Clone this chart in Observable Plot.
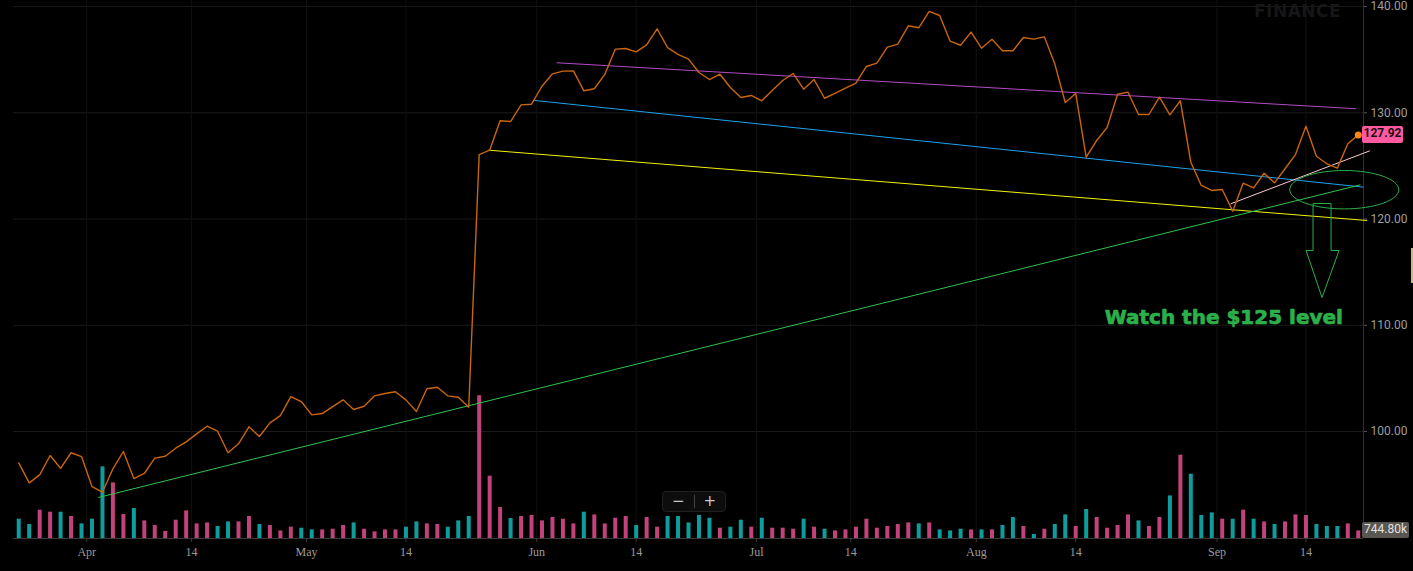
<!DOCTYPE html>
<html>
<head>
<meta charset="utf-8">
<script src="https://cdn.jsdelivr.net/npm/d3@7"></script>
<script src="https://cdn.jsdelivr.net/npm/@observablehq/plot@0.6"></script>
<style>
  html, body { margin: 0; padding: 0; background: #000; }
  #chart { position: relative; width: 1413px; height: 571px; overflow: hidden; background: #000; }
  #chart svg { position: absolute; left: 0; top: 0; }
  .tag { position: absolute; box-sizing: border-box; text-align: center; border-radius: 2px; }
</style>
</head>
<body>
<div id="chart"></div>
<script>
// ---------- data ----------
// daily closing prices, one per trading day (index 0 .. 128)
const price = [
  97.05, 95.17, 95.92, 97.74, 96.54, 98.00, 97.64, 94.82, 94.29, 96.49,
  98.12, 95.57, 96.05, 97.49, 97.67, 98.43, 99.03, 99.78, 100.50, 100.03,
  98.00, 98.84, 100.44, 99.53, 100.82, 101.50, 103.29, 102.82, 101.57, 101.69,
  102.35, 102.98, 102.07, 102.38, 103.36, 103.58, 103.74, 102.98, 101.88, 104.02,
  104.17, 103.36, 103.23, 102.29, 126.07, 126.48, 129.25, 129.18, 130.75, 130.81,
  132.50, 133.67, 133.92, 133.95, 132.07, 132.26, 133.61, 135.99, 136.05, 135.74,
  136.39, 137.91, 136.13, 135.50, 135.05, 133.79, 133.13, 133.63, 132.38, 131.44,
  131.63, 131.13, 132.10, 133.04, 133.70, 132.22, 133.13, 131.37, 131.82, 132.32,
  132.79, 134.36, 134.67, 136.18, 136.46, 138.19, 138.00, 139.54, 139.16, 136.74,
  136.36, 137.59, 136.08, 136.93, 135.84, 135.84, 137.09, 136.93, 137.15, 134.61,
  130.97, 131.82, 125.82, 127.39, 128.62, 131.75, 131.94, 129.84, 129.84, 131.47,
  129.81, 131.13, 125.35, 123.16, 122.69, 122.78, 120.74, 123.37, 122.94, 124.31,
  123.41, 124.73, 126.07, 128.74, 125.91, 125.20, 124.79, 127.08, 127.92
];

// daily volume, thousands of shares
const volume = [
  1891, 1372, 2773, 2577, 2577, 2156, 1431, 1891, 7017, 5449,
  2352, 2940, 1725, 1274, 686, 1793, 2705, 1431, 1529, 1176,
  1627, 1627, 2156, 1372, 1274, 745, 1107, 1009, 843, 843,
  911, 1274, 1529, 911, 647, 843, 843, 1107, 1627, 1431,
  1372, 1107, 1725, 2156, 13975, 6105, 3038, 1960, 2156, 2254,
  1725, 2058, 1891, 1431, 2577, 2313, 1431, 1989, 2156, 1274,
  2058, 1107, 2156, 2156, 1529, 2254, 1989, 1009, 1107, 1793,
  1107, 1989, 1009, 1009, 911, 1891, 1107, 911, 745, 843,
  1107, 1891, 1009, 1176, 1372, 1529, 1431, 1529, 843, 745,
  911, 843, 843, 843, 1274, 2058, 1176, 392, 911, 1372,
  2313, 1176, 2842, 2058, 1009, 1274, 2313, 1725, 1176, 2058,
  4175, 8163, 6301, 2254, 2509, 1891, 1891, 2773, 1891, 1627,
  1372, 1627, 2313, 2254, 1372, 1176, 1176, 1431, 744.8
];

// volume bar tone: t = up day (teal), p = down day (pink)
const barTone = [
  "ttpptptttp", "ptpppppppt", "tpptpppttp", "pptppppttp", "ptttppptpp",
  "pppptppppt", "pptttttptt", "ptppptptpp", "pppppptptt", "tptpttptpt",
  "tptpppptpp", "tptttptptp", "tppptttpp"
].join("").split("");

// x-axis ticks (trading-day index) and their labels
const dateTickAt    = [6.5, 16.5, 27.5, 37, 49.5, 59, 70.5, 79.5, 91.5, 101, 114.5, 123];
const dateTickLabel = ["Apr", "14", "May", "14", "Jun", "14", "Jul", "14", "Aug", "14", "Sep", "14"];

// price axis ticks
const priceTicks = [100, 110, 120, 130, 140];

// hand-drawn trend lines (trading-day index, price)
const trendName = ["channelTop", "channelMid", "channelLow", "support", "shortUp"];
const trendX1 = [51.4, 49.3, 44.9, 7.6, 115.8];
const trendY1 = [134.71, 131.16, 126.48, 93.79, 121.43];
const trendX2 = [127.8, 128.5, 128.85, 128.2, 129.1];
const trendY2 = [130.38, 123.00, 119.86, 123.22, 126.42];

// annotations (trading-day index, price)
const noteText = ["Watch the $125 level"];
const noteX = [115.15];
const noteY = [110.75];
const ringX = [126.66];
const ringY = [122.76];
const arrowX = [124.54];
const arrowY = [117.04];

// ---------- layout & style ----------
const W = 1413, H = 571;
const frame = {
  width: W, height: H,
  marginLeft: 13, marginRight: 50, marginTop: 0, marginBottom: 33,
  style: { background: "transparent", overflow: "visible" }
};
const xDomain = [-0.5, 128.5];
const yDomain = [89.93, 140.57];
const volumeDomain = [0, 52700];

const C = {
  grid: "#1a1a1a", vgrid: "#101010", axis: "#3a3a3a", text: "#9d9d9d",
  price: "#c9650d", teal: "#0e9d9d", pink: "#c2437b",
  channelTop: "#b24cc4", channelMid: "#1ea2ee", channelLow: "#f2f200",
  support: "#2ec24e", shortUp: "#ffc8d2", note: "#2bb04a"
};

const ringSymbol = {
  draw(ctx) {
    const rx = 54.5, ry = 19.2, k = 0.5523;
    ctx.moveTo(rx, 0);
    ctx.bezierCurveTo(rx, ry * k, rx * k, ry, 0, ry);
    ctx.bezierCurveTo(-rx * k, ry, -rx, ry * k, -rx, 0);
    ctx.bezierCurveTo(-rx, -ry * k, -rx * k, -ry, 0, -ry);
    ctx.bezierCurveTo(rx * k, -ry, rx, -ry * k, rx, 0);
    ctx.closePath();
  }
};
const arrowSymbol = {
  draw(ctx) {
    const pts = [[-9, -47], [9, -47], [9, 0], [17, 0], [0, 47], [-16, 0], [-9, 0]];
    ctx.moveTo(pts[0][0], pts[0][1]);
    for (const [px, py] of pts.slice(1)) ctx.lineTo(px, py);
    ctx.closePath();
  }
};

const idx = (d, i) => i;
const labelAt = new Map(dateTickAt.map((t, i) => [t, dateTickLabel[i]]));

// layer 1: grid
const gridPlot = Plot.plot({
  ...frame,
  x: { domain: xDomain, axis: null },
  y: { domain: yDomain, axis: null },
  marks: [
    Plot.gridY(priceTicks, { stroke: C.grid, strokeOpacity: 1 }),
    Plot.gridX(dateTickAt, { stroke: C.vgrid, strokeOpacity: 1 })
  ]
});

// layer 2: volume
const volPlot = Plot.plot({
  ...frame,
  x: { domain: xDomain, axis: null },
  y: { domain: volumeDomain, axis: null },
  color: { domain: ["t", "p"], range: [C.teal, C.pink] },
  marks: [
    Plot.ruleX(volume, { x: idx, y1: 0, y2: d => d, stroke: (d, i) => barTone[i], strokeWidth: 4 })
  ]
});

// layer 3: price, trend lines, axes, annotations
const trendMarks = trendName.map((name, i) =>
  Plot.link([name], {
    x1: () => trendX1[i], y1: () => trendY1[i],
    x2: () => trendX2[i], y2: () => trendY2[i],
    stroke: C[name], strokeWidth: 1
  })
);

const mainPlot = Plot.plot({
  ...frame,
  x: { domain: xDomain },
  y: { domain: yDomain },
  marks: [
    Plot.ruleY([yDomain[0]], { stroke: C.axis }),
    Plot.ruleX([xDomain[1]], { stroke: "#303030" }),
    Plot.axisX({
      ticks: dateTickAt, tickFormat: d => labelAt.get(d),
      tickSize: 4, tickPadding: 5, stroke: C.axis, fill: C.text,
      fontFamily: "Liberation Serif", fontSize: 12
    }),
    Plot.axisY({
      anchor: "right", ticks: priceTicks, tickFormat: d => d.toFixed(2),
      tickSize: 3, tickPadding: 4, stroke: "#555", fill: C.text,
      fontFamily: "Roboto", fontSize: 12
    }),
    ...trendMarks,
    Plot.line(price, { x: idx, y: d => d, stroke: C.price, strokeWidth: 1.4, clip: true }),
    Plot.dot(price.slice(-1), { x: () => price.length - 1, y: d => d, r: 3.5, fill: "#ff8a17" }),
    Plot.dot(ringX, { x: d => d, y: (d, i) => ringY[i], symbol: ringSymbol, r: 1, stroke: C.note, fill: "none", strokeWidth: 1 }),
    Plot.dot(arrowX, { x: d => d, y: (d, i) => arrowY[i], symbol: arrowSymbol, r: 1, stroke: C.note, fill: "none", strokeWidth: 1 }),
    Plot.text(noteText, {
      x: (d, i) => noteX[i], y: (d, i) => noteY[i], text: d => d,
      fill: C.note, stroke: C.note, strokeWidth: 0.7,
      fontFamily: "DejaVu Sans", fontWeight: "bold", fontSize: 20, textAnchor: "middle"
    })
  ]
});

const chart = document.getElementById("chart");
chart.append(gridPlot, volPlot, mainPlot);

// value tags on the right edge, positioned with the plots' own scales
const lastPrice = price[price.length - 1];
const lastVol = volume[volume.length - 1];
const py = mainPlot.scale("y").apply(lastPrice);
const vy = volPlot.scale("y").apply(lastVol);

function addTag(text, top, left, w, h, bg, fg, weight) {
  const el = document.createElement("div");
  el.className = "tag";
  el.textContent = text;
  Object.assign(el.style, {
    top: top + "px", left: left + "px", width: w + "px", height: h + "px",
    lineHeight: h + "px", background: bg, color: fg,
    font: `${weight} 12px Roboto, sans-serif`
  });
  chart.append(el);
}
addTag(lastPrice.toFixed(2), py - 8.5, 1362, 41, 17, "#ff5a9f", "#1c0710", "bold");
addTag(lastVol.toFixed(2) + "k", vy - 8, 1362, 47, 16, "#5a5651", "#e2e2e2", "normal");

// watermark
const wm = document.createElement("div");
wm.textContent = "FINANCE";
Object.assign(wm.style, {
  position: "absolute", left: "1254px", top: "1px",
  font: "bold 17px 'DejaVu Sans', sans-serif", color: "#161616", letterSpacing: "0.5px"
});
chart.append(wm);

// zoom control widget
const zc = document.createElement("div");
Object.assign(zc.style, {
  position: "absolute", left: "662px", top: "491px", width: "64px", height: "21px",
  background: "#0d0d0d", border: "1px solid #1f1f1f", borderRadius: "4px", boxSizing: "border-box",
  color: "#c8c8c8", font: "15px 'DejaVu Sans', sans-serif", display: "flex", alignItems: "center"
});
zc.innerHTML = '<span style="width:31px;text-align:center;line-height:19px">\u2212</span>' +
  '<span style="width:1px;height:13px;background:#444"></span>' +
  '<span style="width:31px;text-align:center;line-height:19px">+</span>';
chart.append(zc);

// small edge handle at right border
const eh = document.createElement("div");
Object.assign(eh.style, {
  position: "absolute", left: "1411px", top: "248px", width: "2px", height: "35px", background: "#c9bb80"
});
chart.append(eh);
</script>
</body>
</html>
